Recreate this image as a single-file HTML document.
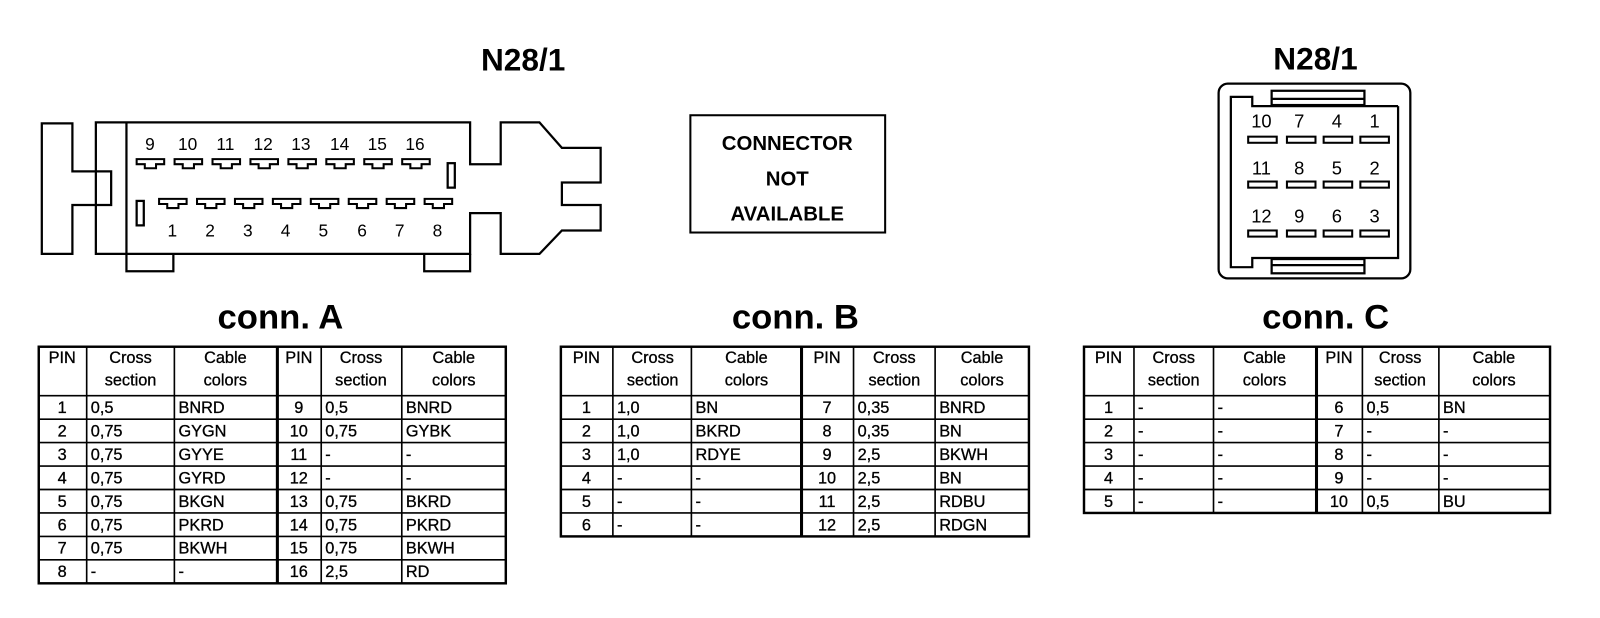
<!DOCTYPE html>
<html><head><meta charset="utf-8"><style>
html,body{margin:0;padding:0;background:#fff;}
svg{display:block;}
text{font-family:"Liberation Sans",Arial,sans-serif;fill:#000;}
</style></head><body>
<svg width="1600" height="618" viewBox="0 0 1569 606" xmlns="http://www.w3.org/2000/svg">
<rect x="0" y="0" width="1569" height="606" fill="#fff"/>
<g fill="none" stroke="#000" stroke-width="2.2" stroke-linejoin="miter">
<polygon points="41,121 71,121 71,168 109,168 109,201 71,201 71,249 41,249"/>
<polygon points="94,120 461,120 461,161 491,161 491,120 529,120 551,145 589,145 589,179 551,179 551,201 589,201 589,226 551,226 529,249 491,249 491,209 461,209 461,249 94,249"/>
<line x1="124" y1="120" x2="124" y2="249"/>
<polyline points="124,249 124,266 170,266 170,249"/>
<polyline points="416,249 416,266 461,266 461,249"/>
<rect x="439" y="160" width="7" height="24"/>
<rect x="134" y="197" width="7" height="24"/>
</g>
<g fill="none" stroke="#000" stroke-width="2">
<g id="tp">
<polygon points="134,156 161,156 161,161 153,161 153,165 142,165 142,161 134,161"/>
</g>
<use href="#tp" x="37.2"/><use href="#tp" x="74.4"/><use href="#tp" x="111.6"/><use href="#tp" x="148.8"/><use href="#tp" x="186"/><use href="#tp" x="223.2"/><use href="#tp" x="260.4"/>
<use href="#tp" x="22" y="39"/><use href="#tp" x="59.2" y="39"/><use href="#tp" x="96.4" y="39"/><use href="#tp" x="133.6" y="39"/><use href="#tp" x="170.8" y="39"/><use href="#tp" x="208" y="39"/><use href="#tp" x="245.2" y="39"/><use href="#tp" x="282.4" y="39"/>
</g>
<g font-size="17" text-anchor="middle">
<text x="147" y="147">9</text><text x="184" y="147">10</text><text x="221" y="147">11</text><text x="258" y="147">12</text><text x="295" y="147">13</text><text x="333" y="147">14</text><text x="370" y="147">15</text><text x="407" y="147">16</text>
<text x="169" y="232">1</text><text x="206" y="232">2</text><text x="243" y="232">3</text><text x="280" y="232">4</text><text x="317" y="232">5</text><text x="355" y="232">6</text><text x="392" y="232">7</text><text x="429" y="232">8</text>
</g>
<text x="513" y="69" font-size="31" font-weight="bold" text-anchor="middle">N28/1</text>
<rect x="677" y="113" width="191" height="115" fill="none" stroke="#000" stroke-width="2"/>
<g font-size="20" font-weight="bold" text-anchor="middle">
<text x="772" y="147">CONNECTOR</text><text x="772" y="182">NOT</text><text x="772" y="216">AVAILABLE</text>
</g>
<text x="1290" y="68" font-size="31" font-weight="bold" text-anchor="middle">N28/1</text>
<g fill="none" stroke="#000" stroke-width="2.2">
<rect x="1195" y="82" width="188" height="191" rx="9"/>
<polyline points="1371,104 1228,104 1228,95 1207,95 1207,262 1228,262 1228,253 1371,253 1371,104"/>
<rect x="1247" y="89" width="91" height="14"/>
<line x1="1247" y1="97" x2="1338" y2="97"/>
<rect x="1247" y="254" width="91" height="14"/>
<line x1="1247" y1="260" x2="1338" y2="260"/>
</g>
<g fill="none" stroke="#000" stroke-width="2">
<rect x="1224" y="134" width="28" height="6"/><rect x="1262" y="134" width="28" height="6"/><rect x="1298" y="134" width="28" height="6"/><rect x="1334" y="134" width="28" height="6"/>
<rect x="1224" y="178" width="28" height="6"/><rect x="1262" y="178" width="28" height="6"/><rect x="1298" y="178" width="28" height="6"/><rect x="1334" y="178" width="28" height="6"/>
<rect x="1224" y="226" width="28" height="6"/><rect x="1262" y="226" width="28" height="6"/><rect x="1298" y="226" width="28" height="6"/><rect x="1334" y="226" width="28" height="6"/>
</g>
<g font-size="18" text-anchor="middle">
<text x="1237" y="125">10</text><text x="1274" y="125">7</text><text x="1311" y="125">4</text><text x="1348" y="125">1</text>
<text x="1237" y="171">11</text><text x="1274" y="171">8</text><text x="1311" y="171">5</text><text x="1348" y="171">2</text>
<text x="1237" y="218">12</text><text x="1274" y="218">9</text><text x="1311" y="218">6</text><text x="1348" y="218">3</text>
</g>
<g font-size="34" font-weight="bold" text-anchor="middle">
<text x="275" y="322">conn. A</text><text x="780" y="322">conn. B</text><text x="1300" y="322">conn. C</text>
</g>
<g fill="none" stroke="#000" stroke-width="1.6">
<rect x="38" y="340" width="458" height="232" stroke-width="2.4"/>
<line x1="85" y1="340" x2="85" y2="572"/><line x1="171" y1="340" x2="171" y2="572"/><line x1="272" y1="340" x2="272" y2="572" stroke-width="3"/><line x1="315" y1="340" x2="315" y2="572"/><line x1="394" y1="340" x2="394" y2="572"/>
<line x1="38" y1="388" x2="496" y2="388"/><line x1="38" y1="411" x2="496" y2="411"/><line x1="38" y1="434" x2="496" y2="434"/><line x1="38" y1="457" x2="496" y2="457"/><line x1="38" y1="480" x2="496" y2="480"/><line x1="38" y1="503" x2="496" y2="503"/><line x1="38" y1="526" x2="496" y2="526"/><line x1="38" y1="549" x2="496" y2="549"/>
</g>
<g font-size="16" stroke="#000" stroke-width="0.3">
<g text-anchor="middle">
<text x="61" y="356">PIN</text><text x="128" y="356">Cross</text><text x="128" y="378">section</text><text x="221" y="356">Cable</text><text x="221" y="378">colors</text>
<text x="293" y="356">PIN</text><text x="354" y="356">Cross</text><text x="354" y="378">section</text><text x="445" y="356">Cable</text><text x="445" y="378">colors</text>
<text x="61" y="405">1</text><text x="61" y="428">2</text><text x="61" y="451">3</text><text x="61" y="474">4</text><text x="61" y="497">5</text><text x="61" y="520">6</text><text x="61" y="543">7</text><text x="61" y="566">8</text>
<text x="293" y="405">9</text><text x="293" y="428">10</text><text x="293" y="451">11</text><text x="293" y="474">12</text><text x="293" y="497">13</text><text x="293" y="520">14</text><text x="293" y="543">15</text><text x="293" y="566">16</text>
</g>
<text x="89" y="405">0,5</text><text x="89" y="428">0,75</text><text x="89" y="451">0,75</text><text x="89" y="474">0,75</text><text x="89" y="497">0,75</text><text x="89" y="520">0,75</text><text x="89" y="543">0,75</text><text x="89" y="566">-</text>
<text x="175" y="405">BNRD</text><text x="175" y="428">GYGN</text><text x="175" y="451">GYYE</text><text x="175" y="474">GYRD</text><text x="175" y="497">BKGN</text><text x="175" y="520">PKRD</text><text x="175" y="543">BKWH</text><text x="175" y="566">-</text>
<text x="319" y="405">0,5</text><text x="319" y="428">0,75</text><text x="319" y="451">-</text><text x="319" y="474">-</text><text x="319" y="497">0,75</text><text x="319" y="520">0,75</text><text x="319" y="543">0,75</text><text x="319" y="566">2,5</text>
<text x="398" y="405">BNRD</text><text x="398" y="428">GYBK</text><text x="398" y="451">-</text><text x="398" y="474">-</text><text x="398" y="497">BKRD</text><text x="398" y="520">PKRD</text><text x="398" y="543">BKWH</text><text x="398" y="566">RD</text>
</g>
<g fill="none" stroke="#000" stroke-width="1.6">
<rect x="550" y="340" width="459" height="186" stroke-width="2.4"/>
<line x1="601" y1="340" x2="601" y2="526"/><line x1="678" y1="340" x2="678" y2="526"/><line x1="786" y1="340" x2="786" y2="526" stroke-width="3"/><line x1="837" y1="340" x2="837" y2="526"/><line x1="917" y1="340" x2="917" y2="526"/>
<line x1="550" y1="388" x2="1009" y2="388"/><line x1="550" y1="411" x2="1009" y2="411"/><line x1="550" y1="434" x2="1009" y2="434"/><line x1="550" y1="457" x2="1009" y2="457"/><line x1="550" y1="480" x2="1009" y2="480"/><line x1="550" y1="503" x2="1009" y2="503"/>
</g>
<g font-size="16" stroke="#000" stroke-width="0.3">
<g text-anchor="middle">
<text x="575" y="356">PIN</text><text x="640" y="356">Cross</text><text x="640" y="378">section</text><text x="732" y="356">Cable</text><text x="732" y="378">colors</text>
<text x="811" y="356">PIN</text><text x="877" y="356">Cross</text><text x="877" y="378">section</text><text x="963" y="356">Cable</text><text x="963" y="378">colors</text>
<text x="575" y="405">1</text><text x="575" y="428">2</text><text x="575" y="451">3</text><text x="575" y="474">4</text><text x="575" y="497">5</text><text x="575" y="520">6</text>
<text x="811" y="405">7</text><text x="811" y="428">8</text><text x="811" y="451">9</text><text x="811" y="474">10</text><text x="811" y="497">11</text><text x="811" y="520">12</text>
</g>
<text x="605" y="405">1,0</text><text x="605" y="428">1,0</text><text x="605" y="451">1,0</text><text x="605" y="474">-</text><text x="605" y="497">-</text><text x="605" y="520">-</text>
<text x="682" y="405">BN</text><text x="682" y="428">BKRD</text><text x="682" y="451">RDYE</text><text x="682" y="474">-</text><text x="682" y="497">-</text><text x="682" y="520">-</text>
<text x="841" y="405">0,35</text><text x="841" y="428">0,35</text><text x="841" y="451">2,5</text><text x="841" y="474">2,5</text><text x="841" y="497">2,5</text><text x="841" y="520">2,5</text>
<text x="921" y="405">BNRD</text><text x="921" y="428">BN</text><text x="921" y="451">BKWH</text><text x="921" y="474">BN</text><text x="921" y="497">RDBU</text><text x="921" y="520">RDGN</text>
</g>
<g fill="none" stroke="#000" stroke-width="1.6">
<rect x="1063" y="340" width="457" height="163" stroke-width="2.4"/>
<line x1="1112" y1="340" x2="1112" y2="503"/><line x1="1190" y1="340" x2="1190" y2="503"/><line x1="1291" y1="340" x2="1291" y2="503" stroke-width="3"/><line x1="1336" y1="340" x2="1336" y2="503"/><line x1="1411" y1="340" x2="1411" y2="503"/>
<line x1="1063" y1="388" x2="1520" y2="388"/><line x1="1063" y1="411" x2="1520" y2="411"/><line x1="1063" y1="434" x2="1520" y2="434"/><line x1="1063" y1="457" x2="1520" y2="457"/><line x1="1063" y1="480" x2="1520" y2="480"/>
</g>
<g font-size="16" stroke="#000" stroke-width="0.3">
<g text-anchor="middle">
<text x="1087" y="356">PIN</text><text x="1151" y="356">Cross</text><text x="1151" y="378">section</text><text x="1240" y="356">Cable</text><text x="1240" y="378">colors</text>
<text x="1313" y="356">PIN</text><text x="1373" y="356">Cross</text><text x="1373" y="378">section</text><text x="1465" y="356">Cable</text><text x="1465" y="378">colors</text>
<text x="1087" y="405">1</text><text x="1087" y="428">2</text><text x="1087" y="451">3</text><text x="1087" y="474">4</text><text x="1087" y="497">5</text>
<text x="1313" y="405">6</text><text x="1313" y="428">7</text><text x="1313" y="451">8</text><text x="1313" y="474">9</text><text x="1313" y="497">10</text>
</g>
<text x="1116" y="405">-</text><text x="1116" y="428">-</text><text x="1116" y="451">-</text><text x="1116" y="474">-</text><text x="1116" y="497">-</text>
<text x="1194" y="405">-</text><text x="1194" y="428">-</text><text x="1194" y="451">-</text><text x="1194" y="474">-</text><text x="1194" y="497">-</text>
<text x="1340" y="405">0,5</text><text x="1340" y="428">-</text><text x="1340" y="451">-</text><text x="1340" y="474">-</text><text x="1340" y="497">0,5</text>
<text x="1415" y="405">BN</text><text x="1415" y="428">-</text><text x="1415" y="451">-</text><text x="1415" y="474">-</text><text x="1415" y="497">BU</text>
</g>
</svg>
</body></html>
